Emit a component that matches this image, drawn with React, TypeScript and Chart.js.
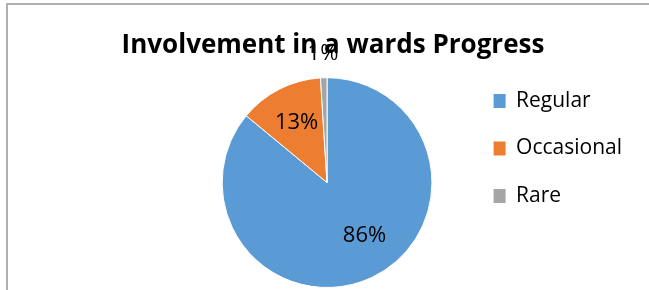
import React, { useEffect, useRef } from "react";
import { Chart, registerables } from "chart.js";

Chart.register(...registerables);

const chartTitle = "Involvement in a wards Progress";
const categories = ["Regular", "Occasional", "Rare"];
const values = [86, 13, 1];
const colors = ["#5B9BD5", "#ED7D31", "#A5A5A5"];
// label placement (radial fraction of radius, angular nudge in degrees)
const labelRadius = [0.62, 0.64, 1.23];
const labelAngleShift = [-10, 0, 0];

const FONT = "'Open Sans', 'Liberation Sans', sans-serif";

const borderPlugin = {
  id: "frameBorder",
  beforeDraw(chart: any) {
    const ctx = chart.ctx;
    ctx.save();
    ctx.strokeStyle = "#b0b0b0";
    ctx.lineWidth = 2;
    ctx.beginPath();
    ctx.moveTo(7, chart.height);
    ctx.lineTo(7, 4);
    ctx.lineTo(chart.width, 4);
    ctx.stroke();
    ctx.restore();
  },
};

// centre the title over the whole frame rather than the padded layout box
const titleSpanPlugin = {
  id: "titleSpan",
  afterLayout(chart: any) {
    const t = chart.titleBlock;
    if (t) {
      t.left = 0;
      t.right = 666;
    }
  },
};

const pctLabelPlugin = {
  id: "pctLabels",
  afterDatasetsDraw(chart: any) {
    const ctx = chart.ctx;
    const meta = chart.getDatasetMeta(0);
    const data = chart.data.datasets[0].data as number[];
    const total = data.reduce((a, b) => a + b, 0);
    ctx.save();
    ctx.font = `22px ${FONT}`;
    ctx.fillStyle = "#000000";
    ctx.textAlign = "center";
    ctx.textBaseline = "middle";
    meta.data.forEach((arc: any, i: number) => {
      const p = arc.getProps(["x", "y", "startAngle", "endAngle", "outerRadius"], true);
      const mid = (p.startAngle + p.endAngle) / 2 + (labelAngleShift[i] * Math.PI) / 180;
      const r = p.outerRadius * labelRadius[i];
      const tx = p.x + Math.cos(mid) * r;
      const ty = p.y + Math.sin(mid) * r;
      ctx.fillText(Math.round((data[i] / total) * 100) + "%", tx, ty);
    });
    ctx.restore();
  },
};

const baseGenerateLabels = (Chart as any).overrides.pie.plugins.legend.labels.generateLabels;

export default function App() {
  const ref = useRef<HTMLCanvasElement | null>(null);
  useEffect(() => {
    if (!ref.current) return;
    const chart = new Chart(ref.current, {
      type: "pie",
      data: {
        labels: categories,
        datasets: [
          {
            data: values,
            backgroundColor: colors,
            borderColor: "#ffffff",
            borderWidth: 1,
          },
        ],
      },
      options: {
        responsive: false,
        animation: false,
        devicePixelRatio: 1,
        layout: { padding: { top: 0, bottom: 2, left: 187, right: 17 } },
        plugins: {
          title: {
            display: true,
            text: chartTitle,
            color: "#000000",
            font: { family: FONT, size: 26, weight: "bold" },
            padding: { top: 30, bottom: 16 },
          },
          legend: {
            display: true,
            position: "right",
            align: "center",
            title: {
              display: true,
              text: "",
              font: { size: 5, lineHeight: 1 },
              padding: 2,
            },
            labels: {
              color: "#000000",
              font: { family: FONT, size: 21 },
              boxWidth: 12,
              boxHeight: 14,
              padding: 26.5,
              generateLabels: (c: any) =>
                baseGenerateLabels(c).map((item: any) => ({ ...item, lineWidth: 0, strokeStyle: item.fillStyle })),
            },
          },
          tooltip: { enabled: false },
        },
      },
      plugins: [borderPlugin, titleSpanPlugin, pctLabelPlugin],
    });
    return () => chart.destroy();
  }, []);
  return (
    <div style={{ position: "absolute", left: 0, top: 0, width: 649, height: 290, background: "#ffffff" }}>
      <canvas ref={ref} width={649} height={290} />
    </div>
  );
}
